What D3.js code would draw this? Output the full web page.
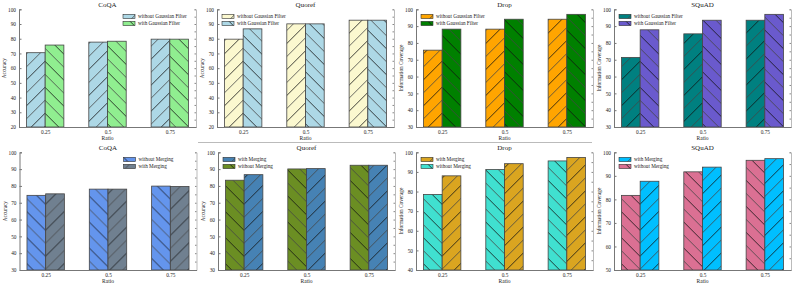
<!DOCTYPE html>
<html>
<head>
<meta charset="utf-8">
<script src="https://cdn.jsdelivr.net/npm/d3@7"></script>
<style>
  body { margin: 0; background: #fff; }
  text { font-family: "Liberation Serif", "DejaVu Serif", serif; fill: #222; }
</style>
</head>
<body>
<script>
var W = 793, H = 286;

var ratios = ["0.25", "0.5", "0.75"];

// row 1: gaussian filter
var coqaNoFilter = [70.5, 77.7, 79.7];
var coqaFilter = [75.7, 78.3, 79.7];
var quorefNoFilter = [79.7, 90.1, 92.6];
var quorefFilter = [86.7, 90.1, 92.6];
var dropNoFilter = [75.7, 88.2, 94.1];
var dropFilter = [88.2, 94.1, 97.0];
var squadNoFilter = [71.4, 85.4, 93.5];
var squadFilter = [87.8, 93.5, 97.0];

// row 2: merging
var coqaNoMerge = [74.4, 78.1, 79.9];
var coqaMerge = [75.3, 78.1, 79.7];
var quorefNoMerge = [83.4, 90.1, 92.3];
var quorefMerge = [86.7, 90.3, 92.3];
var dropNoMerge = [78.5, 91.2, 95.6];
var dropMerge = [88.0, 94.2, 97.4];
var squadNoMerge = [81.7, 91.7, 96.6];
var squadMerge = [87.7, 93.7, 97.3];

var panels = [
  {title: "CoQA", ylab: "Accuracy", left: 19, top: 9.3, ymin: 20, legend: "right",
   series: [
     {name: "without Gaussian Filter", vals: coqaNoFilter, color: "#add8e6", hatch: "f"},
     {name: "with Gaussian Filter", vals: coqaFilter, color: "#90ee90", hatch: "b"}]},
  {title: "Quoref", ylab: "Accuracy", left: 217, top: 9.3, ymin: 20, legend: "left",
   series: [
     {name: "without Gaussian Filter", vals: quorefNoFilter, color: "#fbf8cf", hatch: "f"},
     {name: "with Gaussian Filter", vals: quorefFilter, color: "#add8e6", hatch: "b"}]},
  {title: "Drop", ylab: "Information Coverage", left: 416, top: 9.3, ymin: 30, legend: "left",
   series: [
     {name: "without Gaussian Filter", vals: dropNoFilter, color: "#ffa500", hatch: "f"},
     {name: "with Gaussian Filter", vals: dropFilter, color: "#008000", hatch: "b"}]},
  {title: "SQuAD", ylab: "Information Coverage", left: 614, top: 9.3, ymin: 30, legend: "left",
   series: [
     {name: "without Gaussian Filter", vals: squadNoFilter, color: "#008080", hatch: "f"},
     {name: "with Gaussian Filter", vals: squadFilter, color: "#6a5acd", hatch: "b"}]},
  {title: "CoQA", ylab: "Accuracy", left: 19.5, top: 152.3, ymin: 30, legend: "right",
   series: [
     {name: "without Merging", vals: coqaNoMerge, color: "#6495ed", hatch: "b"},
     {name: "with Merging", vals: coqaMerge, color: "#708090", hatch: "f"}]},
  {title: "Quoref", ylab: "Accuracy", left: 218, top: 152.3, ymin: 30, legend: "left", swap: true,
   series: [
     {name: "without Merging", vals: quorefNoMerge, color: "#6b8e23", hatch: "b"},
     {name: "with Merging", vals: quorefMerge, color: "#4682b4", hatch: "f"}]},
  {title: "Drop", ylab: "Information Coverage", left: 416, top: 152.3, ymin: 40, legend: "left", swap: true,
   series: [
     {name: "without Merging", vals: dropNoMerge, color: "#40e0d0", hatch: "b"},
     {name: "with Merging", vals: dropMerge, color: "#daa520", hatch: "f"}]},
  {title: "SQuAD", ylab: "Information Coverage", left: 614, top: 152.3, ymin: 50, legend: "left", swap: true,
   series: [
     {name: "without Merging", vals: squadNoMerge, color: "#db7093", hatch: "b"},
     {name: "with Merging", vals: squadMerge, color: "#00bfff", hatch: "f"}]}
];

var svg = d3.select("body").append("svg")
  .attr("width", W)
  .attr("height", H);

var defs = svg.append("defs");
var uid = 0;

// hatch like matplotlib "/" and "\" : two lines per tile, one darker
function hatchFill(color, dir) {
  var id = "h" + (uid++);
  var p = defs.append("pattern")
    .attr("id", id)
    .attr("patternUnits", "userSpaceOnUse")
    .attr("width", 26).attr("height", 26);
  p.append("rect").attr("width", 26).attr("height", 26).attr("fill", color);
  var lines = dir == "f"
    ? [[0, 26, 26, 0, "#111"], [-1, 14, 14, -1, "#444"], [12, 27, 27, 12, "#444"]]
    : [[0, 0, 26, 26, "#111"], [-1, 12, 14, 27, "#444"], [12, -1, 27, 14, "#444"]];
  lines.forEach(function (l) {
    p.append("line")
      .attr("x1", l[0]).attr("y1", l[1]).attr("x2", l[2]).attr("y2", l[3])
      .attr("stroke", l[4]).attr("stroke-width", 0.8);
  });
  return "url(#" + id + ")";
}

var pw = 177, ph = 117.7;

panels.forEach(function (P) {
  var g = svg.append("g").attr("transform", "translate(" + P.left + "," + P.top + ")");

  var x = d3.scaleLinear().domain([-0.42, 2.42]).range([0, pw]);
  var y = d3.scaleLinear().domain([P.ymin, 100]).range([ph, 0]);
  var bw = x(0.3) - x(0);

  P.series.forEach(function (s, si) {
    s.fill = hatchFill(s.color, s.hatch);
    g.selectAll(".b" + si)
      .data(s.vals)
      .enter().append("rect")
      .attr("x", function (d, i) { return x(i) + (si - 1) * bw; })
      .attr("y", function (d) { return y(d); })
      .attr("width", bw)
      .attr("height", function (d) { return ph - y(d); })
      .attr("fill", s.fill)
      .attr("stroke", "#444")
      .attr("stroke-width", 0.8);
  });

  // axes
  var yAxis = d3.axisLeft(y).tickValues(d3.range(P.ymin, 101, 10))
    .tickSize(-2.5).tickPadding(3);
  var ya = g.append("g").call(yAxis);
  ya.selectAll("text").style("font-size", "5.3px").attr("fill", "#222");
  ya.select(".domain").attr("stroke", "#777");
  ya.selectAll(".tick line").attr("stroke", "#777");

  var yr = g.append("g").attr("transform", "translate(" + pw + ",0)")
    .call(d3.axisRight(y).tickValues(d3.range(P.ymin, 101, 5)).tickSize(-1.5).tickFormat(""));
  yr.select(".domain").attr("stroke", "#bbb");
  yr.selectAll(".tick line").attr("stroke", "#888");

  var xAxis = d3.axisBottom(x).tickValues([0, 1, 2])
    .tickFormat(function (d) { return ratios[d]; }).tickSize(0).tickPadding(3.5);
  var xa = g.append("g").attr("transform", "translate(0," + ph + ")").call(xAxis);
  xa.selectAll("text").style("font-size", "5.3px").attr("fill", "#222");
  xa.select(".domain").attr("stroke", "#777");

  g.append("text")
    .attr("x", pw / 2).attr("y", -2)
    .attr("text-anchor", "middle")
    .style("font-size", "7px")
    .text(P.title);

  g.append("text")
    .attr("x", pw / 2).attr("y", ph + 13)
    .attr("text-anchor", "middle")
    .style("font-size", "5.5px")
    .text("Ratio");

  g.append("text")
    .attr("transform", "translate(-13," + (ph / 2) + ") rotate(-90)")
    .attr("text-anchor", "middle")
    .style("font-size", "5.3px")
    .text(P.ylab);

  // legend
  var items = P.swap ? [P.series[1], P.series[0]] : P.series;
  var lx = P.legend == "right" ? pw - 73 : 5;
  var lg = g.append("g").attr("transform", "translate(" + lx + ",5)");
  items.forEach(function (s, i) {
    lg.append("rect")
      .attr("x", 0).attr("y", i * 7)
      .attr("width", 12).attr("height", 4.3)
      .attr("fill", s.fill)
      .attr("stroke", "#333").attr("stroke-width", 0.6);
    lg.append("text")
      .attr("x", 15).attr("y", i * 7 + 4)
      .style("font-size", "5.2px")
      .text(s.name);
  });
});

// separator left over from the figure crop
svg.append("line")
  .attr("x1", 198).attr("x2", 592)
  .attr("y1", 142.5).attr("y2", 142.5)
  .attr("stroke", "#bbb").attr("stroke-width", 1);
</script>
</body>
</html>
